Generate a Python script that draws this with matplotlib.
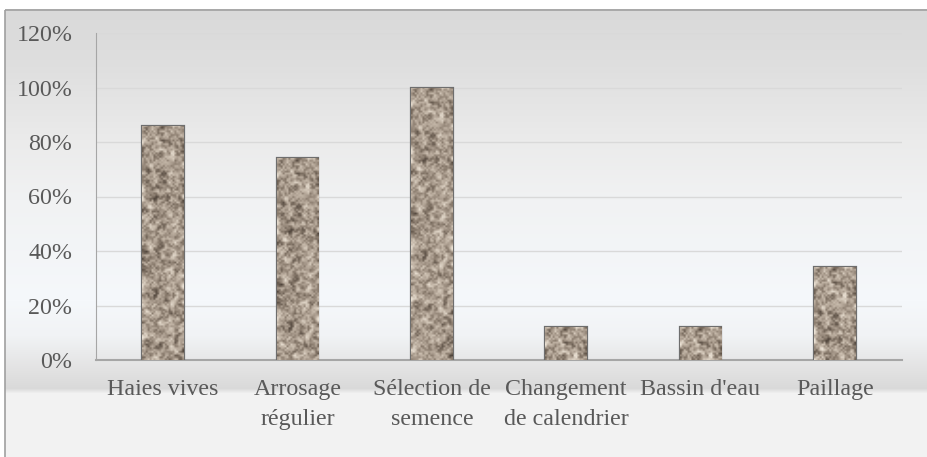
import numpy as np
import matplotlib.pyplot as plt
from matplotlib.patches import Rectangle
from matplotlib.colors import LinearSegmentedColormap

categories = ["Haies vives", "Arrosage\nrégulier", "Sélection de\nsemence",
              "Changement\nde calendrier", "Bassin d'eau", "Paillage"]
values = [86, 74, 100, 12, 12, 34]
yticks = [0, 20, 40, 60, 80, 100, 120]
ytick_labels = ["0%", "20%", "40%", "60%", "80%", "100%", "120%"]

W, H = 927, 457
fig = plt.figure(figsize=(W / 100, H / 100), dpi=100)

# background gradient (Excel-style preset)
bg = fig.add_axes([0, 0, 1, 1])
rows = np.arange(H)
stop_y = [0, 9, 60, 140, 200, 300, 335, 370, 388, 393, 457]
stop_c = [0xff, 0xd9, 0xde, 0xeb, 0xf1, 0xf5, 0xf1, 0xe2, 0xd9, 0xf2, 0xf2]
stop_b = [0xff, 0xd9, 0xde, 0xeb, 0xf3, 0xfb, 0xf5, 0xe2, 0xd9, 0xf2, 0xf2]
r = np.interp(rows, stop_y, stop_c) / 255
b = np.interp(rows, stop_y, stop_b) / 255
g = (r + b) / 2
grad = np.stack([r, g, b], axis=1)[:, None, :].repeat(W, axis=1)
grad[:9, :, :] = 1.0
grad[:, :5, :] = 1.0
bg.imshow(grad, aspect="auto", extent=[0, W, H, 0])
bg.add_patch(Rectangle((5.5, 9.5), W, H, fill=False, edgecolor="#a0a0a0", lw=1.2))
bg.set_xlim(0, W)
bg.set_ylim(H, 0)
bg.axis("off")

ax = fig.add_axes([96 / W, (H - 360) / H, (902 - 96) / W, (360 - 33) / H])
ax.patch.set_alpha(0)

x = np.arange(len(categories))
bars = ax.bar(x, values, width=0.31, color="#a89a8c", edgecolor="#6e6e6e", lw=1.6, zorder=3)

# granite texture inside the bars
rng = np.random.default_rng(7)
noise = rng.random((150, 22))
k = np.ones((3, 3)) / 9
pad = np.pad(noise, 1, mode="edge")
sm = sum(pad[i:i + 150, j:j + 22] * k[i, j] for i in range(3) for j in range(3))
sm = (sm - sm.min()) / (sm.max() - sm.min())
tex = 0.5 * sm + 0.5 * noise
granite = LinearSegmentedColormap.from_list(
    "granite", ["#4e433a", "#857769", "#a99b8d", "#c4b7a8", "#ece3d6"])
for bar in bars:
    x0, w = bar.get_x(), bar.get_width()
    h = bar.get_height()
    n = max(int(h * 1.5), 4)
    im = ax.imshow(tex[:n], cmap=granite, extent=[x0, x0 + w, 0, h],
                   aspect="auto", zorder=3, interpolation="bilinear")
    im.set_clip_path(bar)

ax.set_xlim(-0.5, len(categories) - 0.5)
ax.set_ylim(0, 120)
ax.set_yticks(yticks)
ax.set_yticklabels(ytick_labels)
ax.set_xticks(x)
ax.set_xticklabels(categories)
ax.grid(axis="y", color="#d9d9d9", lw=1, zorder=0)
for s in ["top", "right"]:
    ax.spines[s].set_visible(False)
ax.spines["left"].set_color("#a6a6a6")
ax.spines["bottom"].set_color("#a6a6a6")
ax.spines["bottom"].set_linewidth(1.5)
ax.tick_params(length=0, labelsize=17.3, labelcolor="#595959")
ax.tick_params(axis="y", pad=17)
ax.tick_params(axis="x", pad=14)
for lab in ax.get_xticklabels() + ax.get_yticklabels():
    lab.set_family("Liberation Serif")
for lab in ax.get_xticklabels():
    lab.set_linespacing(1.55)

fig.savefig("out.png", dpi=100)
